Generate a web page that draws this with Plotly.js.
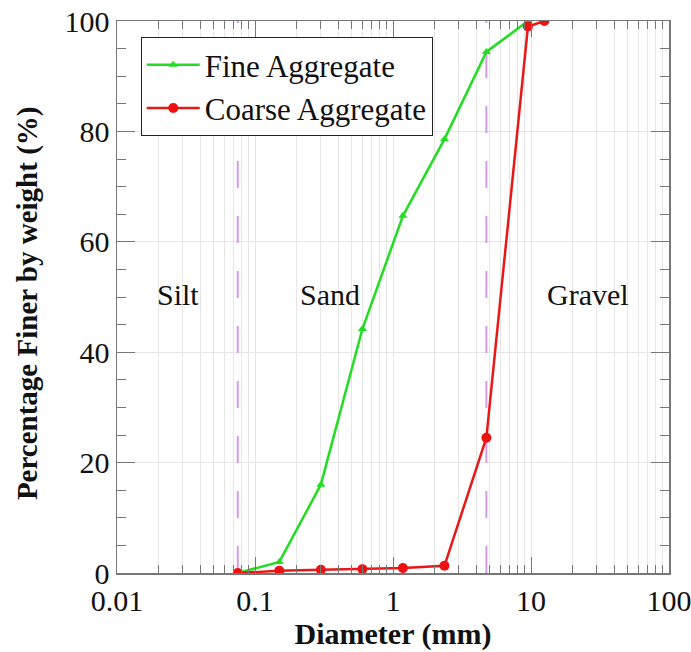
<!DOCTYPE html>
<html>
<head>
<meta charset="utf-8">
<script src="https://cdn.plot.ly/plotly-3.0.1.min.js"></script>
<style>html,body{margin:0;padding:0;background:#fff;}#chart{width:691px;height:652px;}</style>
</head>
<body>
<div id="chart"></div>
<script>
// Data
var fineDiameter = [0.075, 0.15, 0.3, 0.6, 1.18, 2.36, 4.75, 9.5];
var finePercent  = [0, 2, 16, 44.2, 64.7, 78.6, 94.4, 100];
var coarseDiameter = [0.075, 0.15, 0.3, 0.6, 1.18, 2.36, 4.75, 9.5, 12.5];
var coarsePercent  = [0, 0.4, 0.6, 0.7, 0.9, 1.3, 24.5, 99, 100];
var boundaryDiameters = [0.075, 4.75];
var zoneLabels = ["Silt", "Sand", "Gravel"];
var seriesNames = ["Fine Aggregate", "Coarse Aggregate"];
var xTickVals = [0.01, 0.1, 1, 10, 100];
var xTickText = ["0.01", "0.1", "1", "10", "100"];
var yTitle = "Percentage Finer by weight (%)";
var xTitle = "Diameter (mm)";

var serif = "Liberation Serif, Times New Roman, serif";
var gridCol = "#e6e6e6";
var axisCol = "#777777";

// minor tick positions (2..9 within each decade)
var minorVals = [];
for (var k = 0; k < xTickVals.length - 1; k++) {
  for (var m = 2; m <= 9; m++) minorVals.push(m * xTickVals[k]);
}

var traces = [];
boundaryDiameters.forEach(function (d) {
  traces.push({
    x: [d, d], y: [0, 100], mode: "lines", showlegend: false, hoverinfo: "skip",
    line: {color: "#d49be6", width: 2, dash: "27px,28px"}
  });
});
traces.push({
  x: fineDiameter, y: finePercent, name: seriesNames[0], mode: "lines+markers",
  line: {color: "#22dd22", width: 2.5},
  marker: {symbol: "triangle-up", size: 8, color: "#22dd22"}
});
traces.push({
  x: coarseDiameter, y: coarsePercent, name: seriesNames[1], mode: "lines+markers",
  line: {color: "#e81818", width: 2.5},
  marker: {symbol: "circle", size: 10, color: "#ee1111"}
});

var zonePos = [[0.11, 0.504], [0.386, 0.504], [0.853, 0.504]];
var annotations = zoneLabels.map(function (t, i) {
  return {text: t, xref: "paper", yref: "paper", x: zonePos[i][0], y: zonePos[i][1],
    showarrow: false, xanchor: "center", yanchor: "middle",
    font: {family: serif, size: 30, color: "#111"}};
});
annotations.push({
  text: "<b>" + yTitle + "</b>", xref: "paper", yref: "paper", x: -0.163, y: 0.489,
  textangle: -90, showarrow: false, xanchor: "center", yanchor: "middle",
  font: {family: serif, size: 29, color: "#111"}
});

var layout = {
  width: 691, height: 652,
  margin: {l: 117, r: 22, t: 21, b: 79},
  paper_bgcolor: "#fff", plot_bgcolor: "#fff",
  showlegend: true,
  legend: {
    x: 0.043, y: 0.971, xanchor: "left", yanchor: "top",
    bgcolor: "#fff", bordercolor: "#222", borderwidth: 1,
    font: {family: serif, size: 31, color: "#111"},
    tracegroupgap: 0, itemwidth: 53
  },
  xaxis: {
    type: "log", range: [-2, 2],
    tickvals: xTickVals, ticktext: xTickText,
    ticks: "inside", ticklen: 16, tickcolor: axisCol, tickwidth: 1,
    showline: true, linecolor: axisCol, linewidth: 1.5, mirror: "ticks",
    showgrid: true, gridcolor: gridCol, gridwidth: 1,
    zeroline: false, automargin: false, ticklabeloverflow: "allow",
    tickfont: {family: serif, size: 30, color: "#111"},
    minor: {tickmode: "array", tickvals: minorVals, ticks: "inside", ticklen: 8,
            tickcolor: axisCol, showgrid: true, gridcolor: gridCol},
    title: {text: "<b>" + xTitle + "</b>", font: {family: serif, size: 30, color: "#111"}, standoff: 2}
  },
  yaxis: {
    range: [0, 100], dtick: 20,
    ticks: "inside", ticklen: 18, tickcolor: axisCol, tickwidth: 1,
    showline: true, linecolor: axisCol, linewidth: 1.5, mirror: "ticks",
    showgrid: true, gridcolor: gridCol, gridwidth: 1,
    zeroline: false, automargin: false, ticklabeloverflow: "allow",
    tickfont: {family: serif, size: 30, color: "#111"},
    minor: {ticks: "inside", ticklen: 9, dtick: 5, tickcolor: axisCol, showgrid: false}
  },
  annotations: annotations
};

Plotly.newPlot("chart", traces, layout, {displayModeBar: false, staticPlot: true});
</script>
</body>
</html>
